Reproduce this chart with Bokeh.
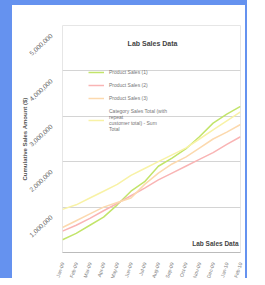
from bokeh.plotting import figure
from bokeh.models import (Label, Legend, LegendItem, FixedTicker, ColumnDataSource,
                          LinearAxis, Range1d)
from bokeh.embed import file_html
from bokeh.resources import INLINE

months = ["Jan-09", "Feb-09", "Mar-09", "Apr-09", "May-09", "Jun-09", "Jul-09",
          "Aug-09", "Sep-09", "Oct-09", "Nov-09", "Dec-09", "Jan-10", "Feb-10"]
y_ticks = [0, 1000000, 2000000, 3000000, 4000000, 5000000]
y_tick_labels = ["0", "1,000,000", "2,000,000", "3,000,000", "4,000,000", "5,000,000"]

series_a = [280000, 420000, 600000, 780000, 1050000, 1350000, 1560000, 1900000,
            2080000, 2280000, 2550000, 2850000, 3050000, 3220000]
series_b = [470000, 600000, 750000, 920000, 1080000, 1250000, 1420000, 1600000,
            1750000, 1900000, 2050000, 2200000, 2380000, 2550000]
series_c = [550000, 700000, 850000, 1000000, 1100000, 1200000, 1500000, 1750000,
            1950000, 2100000, 2300000, 2500000, 2650000, 2820000]
series_d = [950000, 1050000, 1200000, 1350000, 1500000, 1700000, 1850000, 2000000,
            2150000, 2300000, 2500000, 2700000, 2900000, 3100000]
names = ["Product Sales (1)", "Product Sales (2)", "Product Sales (3)",
         "Category Sales Total (with\nrepeat\ncustomer total) - Sum\nTotal"]
colors = ["#c2e46a", "#f9b4b4", "#fcd9ae", "#f8f2a6"]

x = list(range(len(months)))
FONT = "Liberation Sans"
BLUE = "#6592ef"

p = figure(width=247, height=278, output_backend="svg", toolbar_location=None,
           x_range=(0, len(months) - 1), y_range=(0, 5000000),
           min_border_left=50, min_border_right=19, min_border_top=20, min_border_bottom=31)
p.styles = {"border-left": f"12px solid {BLUE}", "border-top": f"5px solid {BLUE}",
            "border-right": f"2px solid {BLUE}"}
p.background_fill_color = "white"
p.border_fill_color = "white"
p.outline_line_color = "#e6e6e6"

p.xgrid.grid_line_color = None
p.ygrid.grid_line_color = "#d4d4d4"
p.ygrid.ticker = FixedTicker(ticks=y_ticks[1:-1])

# main y axis carries no labels; labels are drawn by a companion axis offset downwards
p.yaxis.visible = False
p.extra_y_ranges = {"lbl": Range1d(200000, 5200000)}
yax = LinearAxis(y_range_name="lbl", ticker=FixedTicker(ticks=y_ticks))
yax.major_label_overrides = {t: l for t, l in zip(y_ticks, y_tick_labels)}
yax.major_label_orientation = 0.75
yax.major_label_text_font = FONT
yax.major_label_text_font_size = "6.5px"
yax.major_label_text_color = "#666666"
yax.axis_line_color = None
yax.major_tick_line_color = None
yax.minor_tick_line_color = None
yax.axis_label = "Cumulative Sales Amount ($)"
yax.axis_label_text_font = FONT
yax.axis_label_text_font_size = "6px"
yax.axis_label_text_font_style = "bold"
yax.axis_label_text_color = "#555555"
yax.axis_label_standoff = -4
p.add_layout(yax, "left")

p.xaxis.ticker = FixedTicker(ticks=x)
p.xaxis.major_label_overrides = {i: m for i, m in zip(x, months)}
p.xaxis.major_label_orientation = 1.25
p.xaxis.major_label_text_font = FONT
p.xaxis.major_label_text_font_size = "5px"
p.xaxis.major_label_text_color = "#777777"
p.xaxis.major_label_standoff = 4
p.xaxis.axis_line_color = "#bbbbbb"
p.xaxis.major_tick_line_color = None
p.xaxis.minor_tick_line_color = None

items = []
for vals, name, col in zip([series_a, series_b, series_c, series_d], names, colors):
    src = ColumnDataSource(dict(x=x, y=vals))
    r = p.line("x", "y", source=src, line_color=col, line_width=1.5)
    items.append(LegendItem(label=name, renderers=[r]))

legend = Legend(items=items, location=(26, 120))
legend.label_text_font = FONT
legend.label_text_font_size = "5px"
legend.label_text_color = "#777777"
legend.glyph_width = 16
legend.glyph_height = 6
legend.label_height = 6
legend.spacing = 7
legend.padding = 2
legend.margin = 0
legend.background_fill_alpha = 0
legend.border_line_color = None
p.add_layout(legend, "center")

title = Label(x=90, y=206, x_units="screen", y_units="screen", text="Lab Sales Data",
              text_font=FONT, text_font_size="7px", text_font_style="bold",
              text_color="#444444", text_align="center")
p.add_layout(title)
foot = Label(x=176, y=6, x_units="screen", y_units="screen", text="Lab Sales Data",
             text_font=FONT, text_font_size="6.5px", text_font_style="bold",
             text_color="#444444", text_align="right")
p.add_layout(foot)

open("out.html", "w").write(file_html(p, INLINE))
